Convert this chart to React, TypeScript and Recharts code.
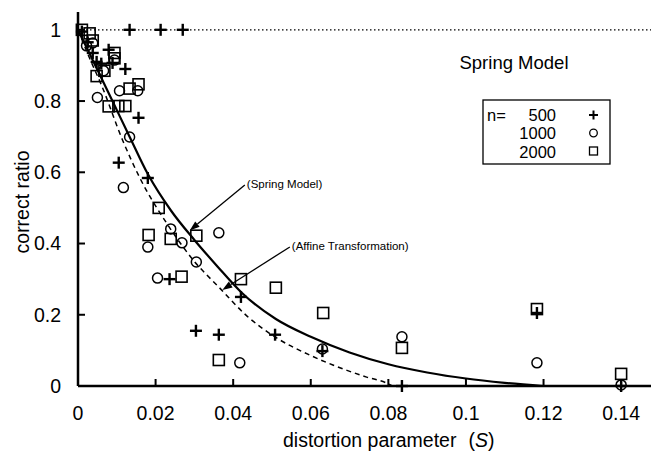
import React from "react"
import {
  ComposedChart,
  Line,
  Scatter,
  XAxis,
  YAxis,
  ReferenceLine,
  Customized,
} from "recharts"

const FONT = '"Liberation Sans", Arial, Helvetica, sans-serif'

// tick values
const ticksX = [0, 0.02, 0.04, 0.06, 0.08, 0.1, 0.12, 0.14]
const ticksY = [0, 0.2, 0.4, 0.6, 0.8, 1]

// n = 500 (+)
const plus500 = [
  { x: 0.001, y: 0.995 },
  { x: 0.0025, y: 0.965 },
  { x: 0.0133, y: 1.0 },
  { x: 0.0213, y: 1.0 },
  { x: 0.027, y: 1.0 },
  { x: 0.0038, y: 0.935 },
  { x: 0.0079, y: 0.944 },
  { x: 0.0048, y: 0.91 },
  { x: 0.006, y: 0.905 },
  { x: 0.0089, y: 0.907 },
  { x: 0.0122, y: 0.89 },
  { x: 0.0156, y: 0.753 },
  { x: 0.0105, y: 0.627 },
  { x: 0.018, y: 0.584 },
  { x: 0.0236, y: 0.3 },
  { x: 0.042, y: 0.25 },
  { x: 0.0304, y: 0.155 },
  { x: 0.0363, y: 0.144 },
  { x: 0.0508, y: 0.144 },
  { x: 0.063, y: 0.098 },
  { x: 0.0835, y: 0.0 },
  { x: 0.1183, y: 0.205 },
  { x: 0.14, y: 0.0 },
]

// n = 1000 (o)
const circle1000 = [
  { x: 0.0022, y: 0.955 },
  { x: 0.0038, y: 0.963 },
  { x: 0.005, y: 0.81 },
  { x: 0.0066, y: 0.885 },
  { x: 0.0094, y: 0.915 },
  { x: 0.0107, y: 0.829 },
  { x: 0.0154, y: 0.829 },
  { x: 0.0133, y: 0.699 },
  { x: 0.0117, y: 0.557 },
  { x: 0.018, y: 0.39 },
  { x: 0.0239, y: 0.441 },
  { x: 0.0268, y: 0.402 },
  { x: 0.0363, y: 0.43 },
  { x: 0.0305, y: 0.348 },
  { x: 0.0205, y: 0.303 },
  { x: 0.0417, y: 0.065 },
  { x: 0.063, y: 0.104 },
  { x: 0.0835, y: 0.138 },
  { x: 0.1183, y: 0.065 },
  { x: 0.14, y: 0.003 },
]

// n = 2000 (square)
const square2000 = [
  { x: 0.001, y: 1.0 },
  { x: 0.003, y: 0.99 },
  { x: 0.0038, y: 0.97 },
  { x: 0.0094, y: 0.935 },
  { x: 0.0094, y: 0.92 },
  { x: 0.0048, y: 0.87 },
  { x: 0.0068, y: 0.885 },
  { x: 0.0133, y: 0.835 },
  { x: 0.0156, y: 0.847 },
  { x: 0.0079, y: 0.785 },
  { x: 0.0104, y: 0.786 },
  { x: 0.0122, y: 0.786 },
  { x: 0.0208, y: 0.5 },
  { x: 0.0182, y: 0.424 },
  { x: 0.0239, y: 0.413 },
  { x: 0.0305, y: 0.422 },
  { x: 0.0267, y: 0.307 },
  { x: 0.042, y: 0.3 },
  { x: 0.051, y: 0.276 },
  { x: 0.0363, y: 0.073 },
  { x: 0.0632, y: 0.205 },
  { x: 0.0835, y: 0.107 },
  { x: 0.1183, y: 0.216 },
  { x: 0.14, y: 0.034 },
]

// Spring Model curve (solid)
const springCurve = [
  { x: 0, y: 1.0 },
  { x: 0.005, y: 0.888 },
  { x: 0.0095, y: 0.786 },
  { x: 0.0133, y: 0.7 },
  { x: 0.018, y: 0.595 },
  { x: 0.024, y: 0.492 },
  { x: 0.03, y: 0.41 },
  { x: 0.036, y: 0.335 },
  { x: 0.042, y: 0.264 },
  { x: 0.051, y: 0.188 },
  { x: 0.06, y: 0.138 },
  { x: 0.07, y: 0.094 },
  { x: 0.08, y: 0.061 },
  { x: 0.09, y: 0.038 },
  { x: 0.1, y: 0.021 },
  { x: 0.11, y: 0.009 },
  { x: 0.12, y: 0.0 },
]

// Affine Transformation curve (dashed)
const affineCurve = [
  { x: 0, y: 1.0 },
  { x: 0.003, y: 0.92 },
  { x: 0.006, y: 0.846 },
  { x: 0.0115, y: 0.69 },
  { x: 0.0159, y: 0.585 },
  { x: 0.0228, y: 0.458 },
  { x: 0.0296, y: 0.355 },
  { x: 0.0368, y: 0.272 },
  { x: 0.0435, y: 0.197 },
  { x: 0.0512, y: 0.135 },
  { x: 0.0597, y: 0.087 },
  { x: 0.0657, y: 0.059 },
  { x: 0.0744, y: 0.025 },
  { x: 0.0796, y: 0.008 },
  { x: 0.081, y: 0.0 },
]

const legendRows = ["500", "1000", "2000"]

const PlusShape = (p: any) => (
  <g stroke="#000" strokeWidth={2.4}>
    <line x1={p.cx - 6} y1={p.cy} x2={p.cx + 6} y2={p.cy} />
    <line x1={p.cx} y1={p.cy - 6} x2={p.cx} y2={p.cy + 6} />
  </g>
)

const CircleShape = (p: any) => (
  <circle cx={p.cx} cy={p.cy} r={5} fill="none" stroke="#000" strokeWidth={1.5} />
)

const SquareShape = (p: any) => (
  <rect x={p.cx - 5.5} y={p.cy - 5.5} width={11} height={11} fill="none" stroke="#000" strokeWidth={1.6} />
)

function arrowShape(text: string) {
  return (p: any) => {
    const { x1, y1, x2, y2 } = p
    const dx = x2 - x1
    const dy = y2 - y1
    const len = Math.sqrt(dx * dx + dy * dy)
    const ux = dx / len
    const uy = dy / len
    const bx = x2 - ux * 10
    const by = y2 - uy * 10
    const pts = `${x2},${y2} ${bx - uy * 3.5},${by + ux * 3.5} ${bx + uy * 3.5},${by - ux * 3.5}`
    return (
      <g>
        <line x1={x1} y1={y1} x2={bx} y2={by} stroke="#000" strokeWidth={1.3} />
        <polygon points={pts} fill="#000" />
        <text x={x1 + 2} y={y1 + 3} fontSize={11.5} fontFamily={FONT} fill="#000">
          {text}
        </text>
      </g>
    )
  }
}

const Overlay = () => (
  <g fontFamily={FONT} fill="#000">
    <text x={22} y={202} fontSize={19.5} textAnchor="middle" dominantBaseline="central" transform="rotate(-90, 22, 202)">
      correct ratio
    </text>
    <text x={283} y={447} fontSize={19.5}>
      distortion parameter
      <tspan dx={12}>(</tspan>
      <tspan fontStyle="italic">S</tspan>
      <tspan>)</tspan>
    </text>
    <text x={514} y={69} fontSize={18.5} textAnchor="middle">
      Spring Model
    </text>
    <rect x={483} y={100} width={127} height={64} fill="#fff" stroke="#000" strokeWidth={1.3} />
    <text x={487} y={120.5} fontSize={16.5}>n=</text>
    {legendRows.map((r, i) => (
      <text key={r} x={556} y={120.5 + i * 18.5} fontSize={16.5} textAnchor="end">
        {r}
      </text>
    ))}
    <g stroke="#000" strokeWidth={2}>
      <line x1={589} y1={115} x2={598} y2={115} />
      <line x1={593.5} y1={110.5} x2={593.5} y2={119.5} />
    </g>
    <circle cx={593.5} cy={133} r={3.8} fill="none" stroke="#000" strokeWidth={1.3} />
    <rect x={589.5} y={147} width={8} height={8} fill="none" stroke="#000" strokeWidth={1.3} />
  </g>
)

export default function App() {
  const axisLine = { stroke: "#000", strokeWidth: 2.5 }
  const tickLine = { stroke: "#000", strokeWidth: 2 }
  return (
    <div style={{ position: "fixed", left: 0, top: 0, width: 651, height: 452, background: "#fff" }}>
      <ComposedChart width={651} height={452} margin={{ top: 12, right: 0, bottom: 0, left: 0 }}>
        <XAxis
          xAxisId={0}
          dataKey="x"
          type="number"
          domain={[0, 0.1477]}
          ticks={ticksX}
          height={66}
          axisLine={axisLine}
          tickLine={tickLine}
          tickSize={-7}
          tickMargin={27}
          tick={{ fill: "#000", fontSize: 19.5, fontFamily: FONT }}
        />
        <XAxis
          xAxisId="top"
          orientation="top"
          type="number"
          domain={[0, 0.1477]}
          ticks={ticksX}
          height={0}
          axisLine={axisLine}
          tickLine={tickLine}
          tickSize={-7}
          tickFormatter={() => ""}
        />
        <YAxis
          type="number"
          domain={[0, 1.05]}
          ticks={ticksY}
          width={78}
          axisLine={axisLine}
          tickLine={tickLine}
          tickSize={-7}
          tickMargin={24}
          tick={{ fill: "#000", fontSize: 19.5, fontFamily: FONT }}
        />
        <ReferenceLine y={1} stroke="#000" strokeWidth={1.3} strokeDasharray="1.5 2.5" />
        <Line
          data={springCurve}
          dataKey="y"
          type="monotone"
          stroke="#000"
          strokeWidth={2.2}
          dot={false}
          isAnimationActive={false}
        />
        <Line
          data={affineCurve}
          dataKey="y"
          type="monotone"
          stroke="#000"
          strokeWidth={1.5}
          strokeDasharray="5 4"
          dot={false}
          isAnimationActive={false}
        />
        <Scatter data={plus500} dataKey="y" shape={PlusShape} isAnimationActive={false} />
        <Scatter data={circle1000} dataKey="y" shape={CircleShape} isAnimationActive={false} />
        <Scatter data={square2000} dataKey="y" shape={SquareShape} isAnimationActive={false} />
        <ReferenceLine
          segment={[{ x: 0.043, y: 0.5646 }, { x: 0.0288, y: 0.4366 }]}
          shape={arrowShape("(Spring Model)")}
        />
        <ReferenceLine
          segment={[{ x: 0.0546, y: 0.3904 }, { x: 0.0372, y: 0.2697 }]}
          shape={arrowShape("(Affine Transformation)")}
        />
        <Customized component={Overlay} />
      </ComposedChart>
    </div>
  )
}
